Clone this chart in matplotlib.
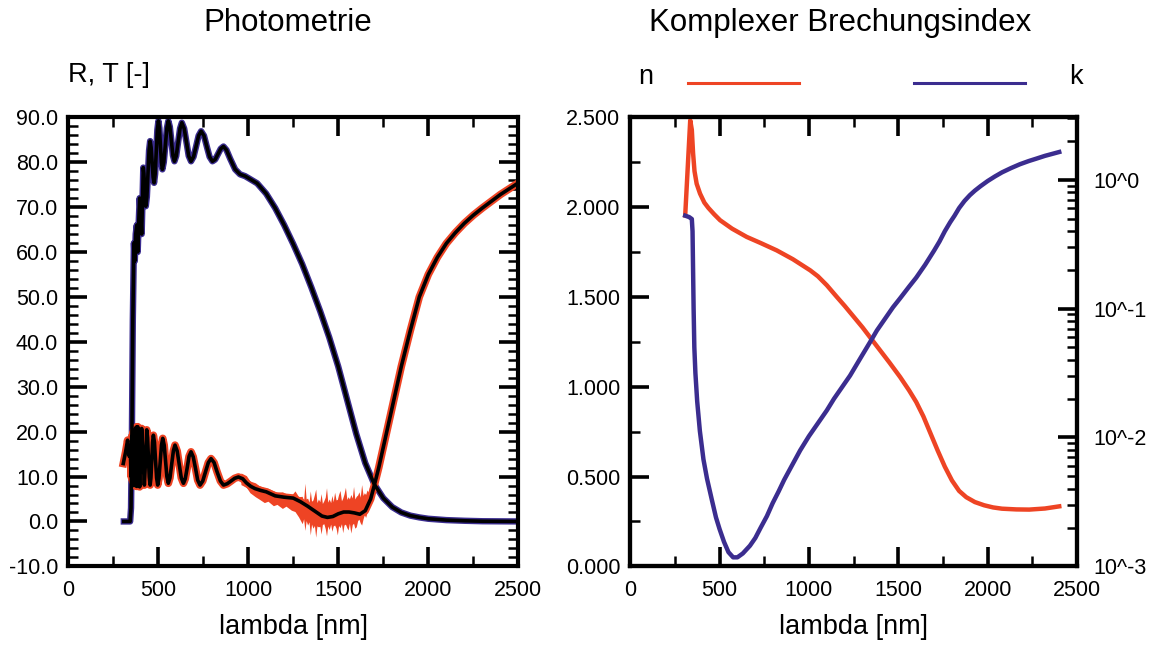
"""Photometrie und komplexer Brechungsindex einer Schicht"""

import numpy as np
from matplotlib import pyplot as plt
from matplotlib.lines import Line2D
from matplotlib.ticker import MultipleLocator, FormatStrFormatter, LogLocator, FuncFormatter, NullFormatter

plt.rcParams['font.family'] = ['Liberation Sans', 'DejaVu Sans']

RED = '#EE4424'
BLUE = '#3B2D8F'

# Transmission (fit), %
lam_T = [310, 345, 350, 355, 360, 366, 371, 376, 382, 387, 392, 398, 404, 409, 414, 418, 421.5,
         425, 428.5, 432, 438, 444, 450, 456, 461.5, 467, 472.5, 478, 484, 490, 496, 502, 507.5,
         513, 518.5, 524, 532, 540.5, 549, 557, 565.5, 574, 582.5, 591, 601, 611.5, 622, 632,
         645, 657.5, 670, 683, 697, 711, 725, 739, 755, 770.5, 786, 802, 817, 832.5, 848, 863,
         880, 900, 928, 955, 983, 1000, 1050, 1100, 1150, 1200, 1250, 1300, 1350, 1400, 1450,
         1500, 1550, 1600, 1650, 1700, 1750, 1800, 1850, 1900, 1950, 2000, 2100, 2200, 2300, 2500]
T_fit = [0, 0, 3, 20, 45, 62, 58, 64, 66, 60, 66, 72, 68, 64, 72, 78.8, 77.5,
         74.5, 71.5, 70.2, 72.3, 77.4, 82.6, 84.7, 83.3, 80.0, 76.7, 75.4, 77.4, 82.3, 87.2, 89.2, 87.6,
         83.8, 80.0, 78.4, 80.0, 83.8, 87.6, 89.2, 87.9, 84.7, 81.5, 80.2, 81.4, 84.5, 87.5, 88.8,
         87.5, 84.5, 81.4, 80.2, 81.2, 83.5, 85.9, 86.9, 85.9, 83.5, 81.2, 80.2, 80.6, 81.8, 83.0, 83.5,
         82.7, 80.8, 78.4, 77.3, 76.9, 76.5, 75.3, 73.0, 69.8, 66.0, 61.8, 57.3, 52.2, 46.8, 41.0,
         34.5, 27.0, 19.5, 13.0, 8.3, 5.2, 3.2, 2.0, 1.3, 0.9, 0.6, 0.3, 0.15, 0.05, 0]

# Reflexion (fit), %
lam_R = [307, 320, 331, 340, 346, 350, 354, 358, 362, 366, 370, 374, 378, 382, 387, 392, 398,
         404, 409, 417, 424, 431, 437, 442, 446.5, 451, 456, 460.5, 465, 469.5, 474, 480, 486, 492,
         498, 505, 512, 519, 526, 534, 541.5, 549, 557, 566, 575.5, 585, 594, 606, 617.5, 629,
         641, 651, 662, 672, 683, 695, 708, 720, 733, 748, 763, 779, 794, 811, 828, 846, 863,
         884, 905, 925, 946, 970, 990, 1015, 1039, 1070, 1100, 1150, 1200, 1250, 1290, 1330,
         1370, 1410, 1440, 1470, 1500, 1530, 1560, 1590, 1620, 1650, 1680, 1700, 1725, 1750,
         1775, 1800, 1850, 1900, 1950, 2000, 2050, 2100, 2150, 2200, 2250, 2300, 2350, 2400,
         2450, 2500]
R_fit = [12.9, 15.5, 18.1, 14.5, 16, 10, 19, 9, 20, 8, 20.5, 8, 21, 7.8, 21.1, 14, 7.7,
         14, 20.7, 14, 8.1, 14, 20.4, 18.6, 14.2, 9.9, 8.1, 9.7, 13.6, 17.6, 19.2, 17.6, 13.6, 9.7,
         8.1, 9.6, 13.3, 17.0, 18.5, 17.0, 13.5, 10.0, 8.5, 9.7, 12.7, 15.7, 17.0, 15.7, 12.7, 9.7,
         8.5, 9.5, 12.0, 14.5, 15.5, 14.4, 11.8, 9.2, 8.1, 9.0, 11.0, 13.1, 14.0, 13.1, 11.0, 9.0, 8.1,
         8.4, 9.0, 9.6, 9.9, 9.5, 8.6, 7.8, 7.3, 6.9, 6.6, 5.7, 5.4, 5.2, 4.4, 3.4,
         2.3, 1.2, 0.9, 1.1, 1.7, 2.1, 2.1, 1.9, 1.6, 2.4, 5.0, 8.0, 12.0, 16.5,
         21.0, 25.5, 34.5, 42.5, 50.0, 55.0, 58.8, 61.9, 64.3, 66.4, 68.2, 69.8, 71.3, 72.8,
         74.1, 75.4]

# noisy part of the measured reflexion (envelope)
lam_noise = [960, 990, 1010, 1040, 1060, 1090, 1110, 1140, 1160, 1190, 1210, 1240, 1260, 1280,
             1300, 1308, 1315, 1322, 1330, 1338, 1345, 1352, 1360, 1368, 1375, 1382, 1390, 1398,
             1405, 1412, 1420, 1428, 1435, 1442, 1450, 1458, 1465, 1472, 1480, 1488, 1495, 1502,
             1510, 1518, 1525, 1532, 1540, 1548, 1555, 1562, 1570, 1578, 1585, 1592, 1600, 1608,
             1615, 1622, 1630, 1638, 1645, 1652, 1660, 1668, 1675, 1682, 1690]
R_hi = [10.8, 10.2, 9.0, 8.6, 8.0, 7.5, 7.4, 6.8, 6.5, 6.6, 6.2, 5.8, 6.8, 5.5,
        5.6, 4.6, 8.5, 5.0, 5.2, 4.3, 6.8, 4.5, 4.8, 6.0, 7.2, 4.2, 5.0, 4.4,
        6.2, 4.0, 4.6, 5.4, 7.5, 4.3, 5.0, 4.2, 5.8, 4.4, 6.5, 4.8, 4.9, 6.0,
        6.9, 4.6, 5.2, 6.1, 7.6, 4.9, 5.5, 5.0, 6.0, 5.2, 7.8, 5.0, 5.6, 5.9,
        6.6, 5.4, 8.2, 5.8, 6.4, 6.0, 7.0, 6.5, 8.0, 7.6, 9.5]
R_lo = [8.2, 7.6, 6.4, 5.5, 5.0, 4.2, 4.5, 3.5, 3.8, 2.9, 3.4, 2.5, 2.2, 1.0,
        -0.5, 0.6, -2.0, 0.2, -0.8, -0.1, -3.0, -0.6, -1.5, -0.9, -3.5, -1.0, -1.2, -1.1,
        -2.8, -0.7, -0.5, -1.6, -3.2, -1.0, -1.8, -0.6, -2.2, -1.0, -0.8, -1.5, -3.0, -0.9,
        -1.4, -0.5, -2.5, -0.8, -0.6, -1.4, -1.9, -0.4, -2.6, -0.7, -0.4, -1.5, -1.2, 0.2,
        0.5, -0.3, -0.8, 0.6, 1.5, 0.9, 2.0, 2.8, 4.0, 5.5, 7.0]

# Brechungsindex n
lam_n = [308, 336, 345, 352, 360, 372, 391, 415, 438, 470, 503, 570, 652, 730, 820, 910, 1007,
         1050, 1100, 1156, 1200, 1250, 1300, 1342, 1400, 1450, 1510, 1560, 1600, 1640, 1680,
         1720, 1760, 1800, 1840, 1880, 1928, 1980, 2030, 2080, 2160, 2232, 2320, 2400]
n_val = [1.954, 2.483, 2.43, 2.30, 2.20, 2.13, 2.075, 2.025, 1.995, 1.96, 1.927, 1.88, 1.834,
         1.80, 1.759, 1.71, 1.648, 1.615, 1.565, 1.50, 1.45, 1.39, 1.33, 1.275, 1.20, 1.135,
         1.054, 0.98, 0.915, 0.835, 0.74, 0.645, 0.555, 0.478, 0.42, 0.385, 0.358, 0.34, 0.328,
         0.321, 0.317, 0.316, 0.322, 0.334]

# Extinktionskoeffizient k (log10)
lam_k = [308, 330, 345, 349, 352, 355, 359, 365, 375, 390, 410, 430, 458, 480, 500, 525, 550,
         576, 600, 630, 670, 700, 730, 765, 797, 830, 861, 900, 951, 1000, 1050, 1100, 1140,
         1190, 1230, 1290, 1342, 1380, 1420, 1470, 1510, 1560, 1600, 1650, 1700, 1730, 1760,
         1790, 1814, 1840, 1870, 1900, 1928, 1960, 2000, 2040, 2080, 2130, 2180, 2230, 2271,
         2320, 2360, 2400]
log_k = [-0.279, -0.29, -0.305, -0.4, -0.7, -1.0, -1.3, -1.5, -1.72, -1.95, -2.17, -2.32, -2.49,
         -2.62, -2.71, -2.81, -2.89, -2.93, -2.93, -2.90, -2.84, -2.78, -2.70, -2.61, -2.51,
         -2.42, -2.33, -2.23, -2.10, -1.99, -1.89, -1.79, -1.70, -1.60, -1.52, -1.38, -1.26,
         -1.17, -1.09, -0.99, -0.92, -0.83, -0.76, -0.66, -0.55, -0.48, -0.40, -0.33, -0.28,
         -0.22, -0.165, -0.12, -0.085, -0.05, -0.01, 0.025, 0.057, 0.09, 0.12, 0.145, 0.163,
         0.185, 0.2, 0.215]
k_val = 10.0 ** np.array(log_k)


def style_ticks(ax, **kw):
    ax.tick_params(which='both', direction='in', labelsize=15.5, **kw)
    ax.tick_params(which='major', length=14, width=2.6)
    ax.tick_params(which='minor', length=7, width=1.8)


fig = plt.figure(figsize=(11.52, 6.48), dpi=100)

# --- Photometrie ---
ax1 = fig.add_axes([0.059, 0.126, 0.391, 0.693])
ax1.plot(lam_T, T_fit, color=BLUE, lw=4.6, solid_joinstyle='round')
ax1.plot(lam_R, R_fit, color=RED, lw=5.5, solid_joinstyle='round')
ax1.fill_between(lam_noise, R_lo, R_hi, color=RED, lw=0)
ax1.plot(lam_T, T_fit, color='black', lw=2.6, solid_joinstyle='round')
ax1.plot(lam_R, R_fit, color='black', lw=2.6, solid_joinstyle='round')
ax1.set_xlim(0, 2500)
ax1.set_ylim(-10, 90)
ax1.xaxis.set_major_locator(MultipleLocator(500))
ax1.xaxis.set_minor_locator(MultipleLocator(250))
ax1.yaxis.set_major_locator(MultipleLocator(10))
ax1.yaxis.set_minor_locator(MultipleLocator(2))
ax1.yaxis.set_major_formatter(FormatStrFormatter('%.1f'))
style_ticks(ax1, top=True, right=True)
ax1.tick_params(axis='y', pad=7)
ax1.tick_params(axis='x', pad=10)
for s in ax1.spines.values():
    s.set_linewidth(3)
ax1.set_xlabel('lambda [nm]', fontsize=19.5, labelpad=9)

# --- Komplexer Brechungsindex ---
ax2 = fig.add_axes([0.547, 0.126, 0.388, 0.693])
ax2.plot(lam_n, n_val, color=RED, lw=3.2, zorder=3, solid_joinstyle='round')
ax2.set_xlim(0, 2500)
ax2.set_ylim(0, 2.5)
ax2.xaxis.set_major_locator(MultipleLocator(500))
ax2.xaxis.set_minor_locator(MultipleLocator(250))
ax2.yaxis.set_major_locator(MultipleLocator(0.5))
ax2.yaxis.set_minor_locator(MultipleLocator(0.25))
ax2.yaxis.set_major_formatter(FormatStrFormatter('%.3f'))
style_ticks(ax2, top=True, right=False)
ax2.tick_params(axis='y', pad=7)
ax2.tick_params(axis='x', pad=10)
ax2.set_xlabel('lambda [nm]', fontsize=19.5, labelpad=9)

ax3 = ax2.twinx()
ax3.plot(lam_k, k_val, color=BLUE, lw=3.2, solid_joinstyle='round')
ax3.set_yscale('log')
ax3.set_ylim(1e-3, 3.05)
ax3.yaxis.set_major_locator(LogLocator(base=10, numticks=10))
ax3.yaxis.set_minor_locator(LogLocator(base=10, subs=np.arange(2, 10), numticks=20))
ax3.yaxis.set_major_formatter(FuncFormatter(lambda v, p: f'10^{int(round(np.log10(v)))}'))
ax3.yaxis.set_minor_formatter(NullFormatter())
style_ticks(ax3, right=True, left=False)
ax3.tick_params(axis='y', pad=12)
for s in list(ax2.spines.values()) + list(ax3.spines.values()):
    s.set_linewidth(3)

# titles and axis captions
fig.text(0.25, 0.965, 'Photometrie', fontsize=22.5, ha='center', va='center')
fig.text(0.729, 0.965, 'Komplexer Brechungsindex', fontsize=22.5, ha='center', va='center')
fig.text(0.059, 0.884, 'R, T [-]', fontsize=19.5, ha='left', va='center')
fig.text(0.554, 0.881, 'n', fontsize=19.5, ha='left', va='center')
fig.text(0.934, 0.881, 'k', fontsize=19.5, ha='center', va='center')
fig.add_artist(Line2D([0.597, 0.694], [0.872, 0.872], color=RED, lw=2.2,
                      transform=fig.transFigure))
fig.add_artist(Line2D([0.793, 0.890], [0.872, 0.872], color=BLUE, lw=2.2,
                      transform=fig.transFigure))

plt.savefig('out.png', dpi=100)
